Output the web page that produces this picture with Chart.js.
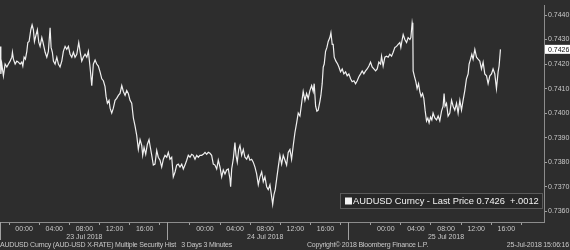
<!DOCTYPE html>
<html><head><meta charset="utf-8">
<script src="https://cdn.jsdelivr.net/npm/chart.js@4/dist/chart.umd.min.js"></script>
<style>html,body{margin:0;padding:0;background:#2d2d2d;overflow:hidden}</style>
</head><body>
<canvas id="c" width="570" height="250"></canvas>
<script>
// hours since 23 Jul 2018 00:00
const hours = [-3.18,-3.09,-2.96,-2.75,-2.52,-2.29,-2.08,-1.86,-1.63,-1.55,-1.42,-1.19,-0.97,-0.76,-0.53,-0.31,-0.17,
0,0.17,0.36,0.49,0.66,0.89,1.06,1.23,1.37,1.59,1.76,1.95,2.12,2.35,2.48,2.65,2.79,3.01,3.22,3.45,3.58,3.75,3.89,
4.11,4.34,4.55,4.77,5.00,5.21,5.44,5.66,5.88,6.10,6.33,6.54,6.76,6.99,7.25,7.43,7.65,7.86,8.09,8.32,8.53,8.75,8.98,
9.19,9.42,9.64,9.85,10.08,10.31,10.52,10.74,10.88,11.05,11.27,11.41,11.63,11.84,12.07,12.29,12.51,12.73,12.96,13.17,
13.40,13.62,13.83,14.06,14.28,14.50,14.72,14.95,15.16,15.39,15.61,15.74,15.92,16.14,16.35,16.58,16.71,16.94,17.15,
17.37,17.60,17.81,18.04,18.26,18.48,18.70,18.93,19.14,19.36,19.59,19.80,20.03,20.25,20.46,20.69,20.92,21.13,21.35,
21.58,21.79,22.02,22.24,22.45,22.68,22.91,23.12,23.34,23.57,23.78,24.01,24.23,24.44,24.67,24.89,25.11,25.33,25.56,
25.77,26.00,26.22,26.43,26.66,26.88,27.10,27.32,27.41,27.55,27.76,27.98,28.12,28.29,28.48,28.65,28.87,29.09,29.31,
29.54,29.75,29.97,30.20,30.41,30.64,30.86,31.08,31.30,31.53,31.74,31.96,32.19,32.40,32.63,32.85,32.99,33.16,33.33,
33.52,33.73,33.95,34.18,34.39,34.62,34.84,35.05,35.28,35.50,35.72,35.94,36.17,36.38,36.61,36.83,37.04,37.27,37.49,
37.71,37.93,38.16,38.37,38.50,38.69,38.86,39.03,39.26,39.39,39.56,39.70,39.83,40.01,40.19,40.36,40.58,40.72,40.89,
41.02,41.16,41.38,41.61,41.78,42.00,42.22,42.44,42.67,42.88,43.10,43.33,43.54,43.77,43.99,44.21,44.43,44.66,44.87,
45.09,45.32,45.53,45.76,45.98,46.19,46.42,46.65,46.86,47.08,47.31,47.44,47.65,47.88,48.10,48.32,48.54,48.77,48.98,
49.21,49.43,49.64,49.87,50.00,50.13,50.31,50.53,50.76,50.97,51.20,51.33,51.50,51.59,51.63,51.82,51.99,52.16,52.35,
52.52,52.69,52.88,53.05,53.22,53.41,53.58,53.75,53.94,54.11,54.28,54.51,54.74,54.95,55.17,55.40,55.61,55.74,55.87,
56.06,56.27,56.50,56.73,56.94,57.16,57.39,57.60,57.83,58.05,58.26,58.49,58.71,58.93,59.06,59.25,59.42,59.59,59.82,
60.04,60.25,60.48,60.70,60.92,61.14,61.37,61.58,61.81,62.03,62.24,62.47,62.69,62.91,63.04,63.22];
const prices = [0.74272,0.7416,0.7420,0.74152,0.7420,0.74188,0.7420,0.74212,0.74228,0.74248,0.7422,0.7420,0.74212,0.74208,0.7420,0.74208,0.74192,
0.74228,0.7422,0.74252,0.74288,0.74292,0.7434,0.7436,0.7434,0.74292,0.7432,0.7434,0.74288,0.74272,0.74308,0.74292,0.74268,0.74248,0.74228,0.74252,0.74348,0.74268,0.74248,0.74212,
0.7420,0.74228,0.7420,0.74188,0.74212,0.74252,0.74272,0.7426,0.74272,0.7424,0.74228,0.74248,0.74228,0.7424,0.74288,0.74252,0.74212,0.74228,0.7424,0.74228,0.74252,0.74188,0.74112,
0.7420,0.74216,0.7420,0.74192,0.74168,0.7414,0.74132,0.74108,0.74068,0.7404,0.74052,0.7402,0.7400,0.7402,0.74052,0.7406,0.74072,0.7408,0.74112,0.74088,
0.74072,0.74092,0.7408,0.74052,0.7404,0.7398,0.73948,0.73908,0.73852,0.73892,0.73868,0.73828,0.7386,0.73832,0.73872,0.73892,0.73868,0.73828,0.73788,
0.73792,0.73848,0.7382,0.73808,0.7378,0.73812,0.73828,0.7382,0.7384,0.73812,0.7382,0.7374,0.7376,0.73788,0.73792,0.7378,0.73792,0.73772,0.73788,
0.73808,0.73828,0.7382,0.73832,0.73828,0.73812,0.73828,0.7382,0.73828,0.73828,0.73832,0.7384,0.73832,0.7384,0.73836,0.73828,0.73792,0.73788,0.73772,
0.73808,0.7378,0.7374,0.73768,0.73752,0.73768,0.73772,0.73732,0.737,0.73772,0.73812,0.7388,0.73828,0.738,0.73852,0.73868,0.73828,0.73852,0.7382,
0.73812,0.73828,0.73808,0.73812,0.738,0.7378,0.73752,0.73708,0.7374,0.7376,0.7372,0.7374,0.737,0.73688,0.73708,0.7366,0.73628,0.73668,0.73688,
0.73732,0.7378,0.73828,0.73792,0.73828,0.73808,0.73788,0.7384,0.73852,0.73812,0.73868,0.7392,0.7396,0.7400,0.73988,0.7404,0.74088,0.74052,0.7408,
0.7406,0.74092,0.74112,0.74088,0.7412,0.74028,0.74008,0.74012,0.74048,0.74072,0.7412,0.74188,0.742,0.74252,0.74268,0.74292,0.74308,0.74328,0.7428,
0.7428,0.74228,0.74212,0.742,0.74188,0.74168,0.7418,0.7416,0.74168,0.74152,0.7416,0.7414,0.74128,0.74132,0.7412,0.74132,0.74148,0.7416,0.74172,
0.7416,0.74172,0.7418,0.74192,0.74208,0.74188,0.7418,0.74172,0.7418,0.74208,0.742,0.74232,0.74192,0.74228,0.74232,0.74228,0.7424,0.74232,0.74248,
0.74268,0.74272,0.7428,0.74288,0.74268,0.74292,0.7432,0.743,0.74288,0.74308,0.743,0.74308,0.74368,0.74348,0.74172,0.74148,0.74128,0.741,0.7412,
0.74088,0.74068,0.7408,0.7406,0.74012,0.73968,0.7398,0.7396,0.73984,0.73972,0.74,0.7398,0.73972,0.73988,0.73968,0.74008,0.74028,0.7408,0.74028,
0.7404,0.73988,0.74,0.74052,0.74028,0.74012,0.7404,0.74,0.74052,0.74012,0.74052,0.74092,0.7414,0.7416,0.742,0.7422,0.7424,0.7422,0.7426,
0.74228,0.7422,0.74212,0.7418,0.74208,0.7416,0.74152,0.7412,0.74152,0.7416,0.7418,0.7416,0.741,0.74168,0.74192,0.7426];

const labelHours = [0,4,8,12,16,24,28,32,36,40,48,52,56,60,64];
const labelTexts = ['00:00','04:00','08:00','12:00','16:00','00:00','04:00','08:00','12:00','16:00','00:00','04:00','08:00','12:00','16:00'];
const markHours = [-2,2,6,10,14,18,22,26,30,34,38,42,46,50,54,58,62,66];
const dateHours = [8,32,56];
const dateTexts = ['23 Jul 2018','24 Jul 2018','25 Jul 2018'];
const sessionBreakHours = [19,43];
const yTickValues = [0.7360,0.7370,0.7380,0.7390,0.7400,0.7410,0.7420,0.7430,0.7440];
const seriesName = 'AUDUSD Curncy - Last Price';
const lastPrice = 0.7426;
const netChange = '+.0012';
const footerLeft = 'AUDUSD Curncy (AUD-USD X-RATE) Multiple Security Hist   3 Days 3 Minutes';
const footerMid = 'Copyright\u00A9 2018 Bloomberg Finance L.P.';
const footerRight = '25-Jul-2018 15:06:16';

const BG = '#2d2d2d';
const TXT = '#c8c8c8';
const AX = '#8c8c8c';
const FONT = "'Liberation Sans', Arial, sans-serif";

const points = hours.map((h, i) => ({x: h, y: prices[i]}));

const decor = {
  id: 'decor',
  beforeDraw(chart) {
    const c = chart.ctx;
    c.save();
    c.fillStyle = BG;
    c.fillRect(0, 0, chart.width, chart.height);
    c.restore();
  },
  afterDraw(chart) {
    const c = chart.ctx, xs = chart.scales.x, ys = chart.scales.y, a = chart.chartArea;
    c.save();
    // session breaks
    c.strokeStyle = '#a0a0a0';
    c.lineWidth = 1;
    const brk = sessionBreakHours.map(h => Math.round(xs.getPixelForValue(h)) + 0.5);
    brk.push(a.left + 0.5);
    brk.forEach(px => {
      c.beginPath(); c.moveTo(px, a.bottom); c.lineTo(px, a.bottom + 18); c.stroke();
    });
    // last price tag
    const py = ys.getPixelForValue(lastPrice);
    c.fillStyle = '#ffffff';
    c.fillRect(a.right + 1, py - 4.5, chart.width - a.right - 1, 9);
    c.fillStyle = '#111111';
    c.font = '7px ' + FONT;
    c.textBaseline = 'middle';
    c.textAlign = 'left';
    c.fillText(lastPrice.toFixed(4), a.right + 4, py + 0.5);
    // legend box
    const lx = 340, ly = 193, lw = 203, lh = 16;
    c.fillStyle = '#272727';
    c.fillRect(lx, ly, lw, lh);
    c.strokeStyle = '#5a5a5a';
    c.strokeRect(lx + 0.5, ly + 0.5, lw - 1, lh - 1);
    c.fillStyle = '#f2f2f2';
    c.fillRect(lx + 5, ly + 4.5, 7, 7);
    c.font = '9.3px ' + FONT;
    c.fillText(seriesName + ' ' + lastPrice.toFixed(4) + '  ' + netChange, lx + 13, ly + lh / 2 + 0.5);
    // footer
    c.fillStyle = TXT;
    c.font = '7px ' + FONT;
    c.letterSpacing = '-0.2px';
    c.textAlign = 'left';
    c.fillText(footerLeft, 0, 245.5);
    c.fillText(footerMid, 307, 245.5);
    c.textAlign = 'right';
    c.fillText(footerRight, 569, 245.5);
    c.restore();
  }
};

new Chart(document.getElementById('c'), {
  type: 'line',
  data: {
    datasets: [{
      label: seriesName,
      data: points,
      borderColor: '#f0f0f0',
      borderWidth: 1.2,
      pointRadius: 0,
      tension: 0,
      fill: false
    }]
  },
  options: {
    responsive: false,
    animation: false,
    devicePixelRatio: 1,
    layout: {padding: 0},
    plugins: {legend: {display: false}, tooltip: {enabled: false}},
    scales: {
      x: {
        type: 'linear',
        position: 'bottom',
        min: -3.2,
        max: 69.0,
        afterBuildTicks: s => {
          s.ticks = labelHours.concat(markHours).sort((p, q) => p - q).map(v => ({value: v}));
        },
        afterFit: s => { s.height = 28; },
        border: {color: AX, width: 1},
        grid: {
          drawOnChartArea: false,
          tickLength: 3,
          tickColor: ctx => (ctx.tick && markHours.includes(ctx.tick.value)) ? '#a0a0a0' : 'rgba(0,0,0,0)'
        },
        ticks: {
          autoSkip: false,
          maxRotation: 0,
          padding: 0,
          color: TXT,
          font: {size: 7, family: FONT, lineHeight: 1.15},
          callback: v => {
            const i = labelHours.indexOf(v);
            if (i < 0) return '';
            const d = dateHours.indexOf(v);
            return d >= 0 ? [labelTexts[i], dateTexts[d]] : labelTexts[i];
          }
        }
      },
      y: {
        position: 'right',
        min: 0.73556,
        max: 0.7444,
        afterBuildTicks: s => { s.ticks = yTickValues.map(v => ({value: v})); },
        afterFit: s => { s.width = 26; },
        border: {color: AX, width: 1},
        grid: {drawOnChartArea: false, tickLength: 3, tickColor: '#a0a0a0'},
        ticks: {
          padding: 1,
          color: TXT,
          font: {size: 7, family: FONT},
          callback: v => v.toFixed(4)
        }
      }
    }
  },
  plugins: [decor]
});
</script>
</body></html>
